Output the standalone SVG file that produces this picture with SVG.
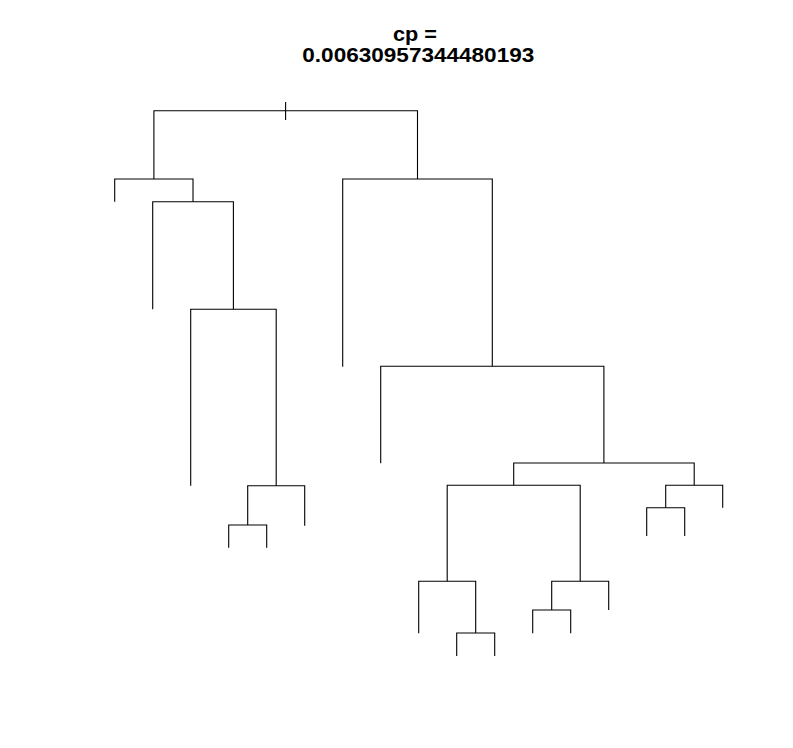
<svg xmlns="http://www.w3.org/2000/svg" width="793" height="748" viewBox="0 0 793 748">
<style>
.t{font-family:"Liberation Sans",Arial,sans-serif;font-weight:bold;font-size:20px;fill:#000;text-anchor:middle}
.e{fill:none;stroke:#000;stroke-width:1.1;stroke-linecap:butt}
</style>
<rect width="793" height="748" fill="#fff"/>
<g id="title">
<text class="t" x="415" y="40.5" textLength="44" lengthAdjust="spacingAndGlyphs">cp =</text>
<text class="t" x="418.3" y="62" textLength="232" lengthAdjust="spacingAndGlyphs">0.00630957344480193</text>
</g>
<g id="connectors" class="e">
<path d="M285.6,102V120"/>
<path d="M153.9,179V110.7H417.5V179"/>
<path d="M114.7,201.7V179H193V201.7"/>
<path d="M152.7,309.3V201.7H233.4V309.3"/>
<path d="M190.7,485.7V309.3H276.2V485.7"/>
<path d="M247.7,525V485.7H304.7V525.7"/>
<path d="M228.7,547.7V525H266.7V547.7"/>
<path d="M342.7,366.7V179H492.3V366.3"/>
<path d="M380.7,463.3V366.3H603.9V463"/>
<path d="M513.7,485.3V463H694.2V485.3"/>
<path d="M447.2,581.3V485.3H580.2V581.3"/>
<path d="M418.7,633.3V581.3H475.7V633"/>
<path d="M456.7,656V633H494.7V656"/>
<path d="M551.7,610V581.3H608.7V610"/>
<path d="M532.7,633.3V610H570.7V633.3"/>
<path d="M665.7,507.7V485.3H722.7V507.7"/>
<path d="M646.7,536V507.7H684.7V536"/>
</g>
</svg>
